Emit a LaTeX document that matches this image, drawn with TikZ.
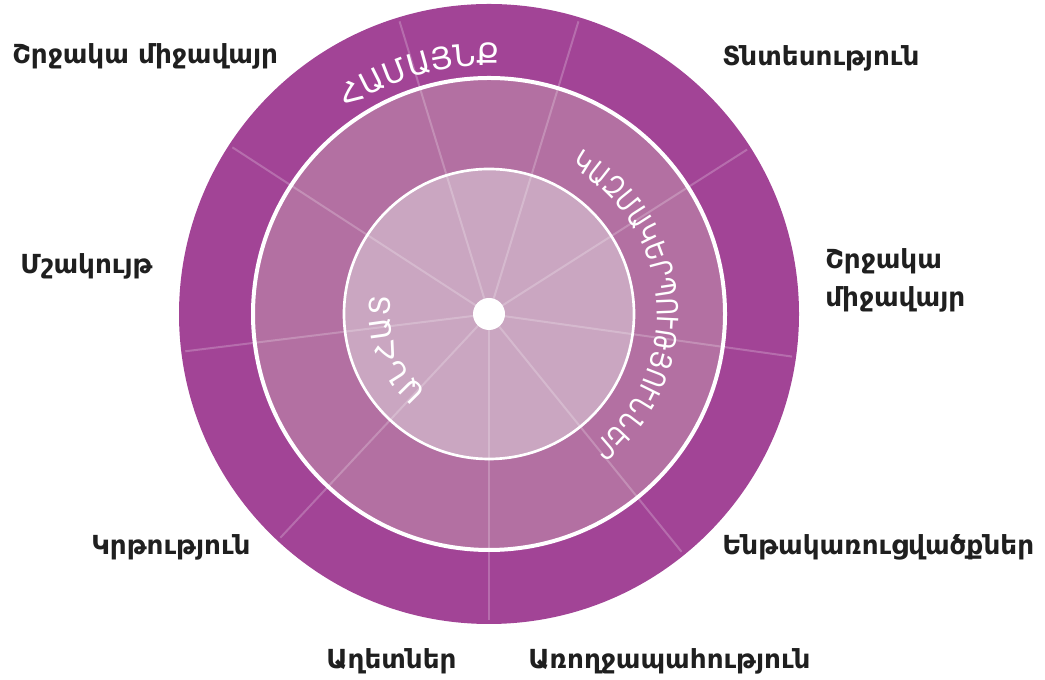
\documentclass[tikz,border=0pt]{standalone}
\usepackage{fontspec}
\setmainfont{DejaVu Sans}
\newfontfamily\arcwide{DejaVu Sans}
\newfontfamily\arcnarrow[FakeStretch=0.82]{DejaVu Sans}
\usepackage{tikz}
\usetikzlibrary{decorations.text}

\definecolor{ringouter}{HTML}{A24496}
\definecolor{ringmid}{HTML}{B370A2}
\definecolor{ringinner}{HTML}{CAA6C1}

\tikzset{
  factor/.style={font=\bfseries\fontsize{19.7}{28.5}\selectfont, text=black!88,
    anchor=west, inner sep=0pt, align=left},
  arctitle/.style 2 args={decorate, decoration={text along path, text align=fit to path,
    text={|\color{white}#1|#2}}},
  spoke/.style={white, opacity=0.22, line width=1.5pt},
}

\begin{document}
\begin{tikzpicture}[x=0.75pt, y=0.75pt]
  \useasboundingbox (0,0) rectangle (1045,680);
  \coordinate (c) at (489,366);

  % Three rings, outermost first
  \fill[ringouter] (c) circle[radius=310];
  \fill[ringmid] (c) circle[radius=236];
  \fill[ringinner] (c) circle[radius=145];

  % Faint spokes between the factors
  \foreach \a [count=\i] in {107,73,32.5,-8,-51,-90,-133,-173,147}
    \draw[spoke] (c) -- ++(\a:306) coordinate (sp-\i);

  % Ring borders and hub
  \draw[white, line width=3pt] (c) circle[radius=236];
  \draw[white, line width=2pt] (c) circle[radius=145];
  \fill[white] (c) circle[radius=16];

  % Curved ring titles, read clockwise
  \path[arctitle={\arcwide\fontsize{23}{26}\selectfont}{ՀԱՄԱՅՆՔ}]
    (c) ++(124.5:249) arc[start angle=124.5, end angle=88.5, radius=249];
  \path[arctitle={\arcnarrow\fontsize{22}{25}\selectfont}{ԿԱԶՄԱԿԵՐՊՈՒԹՅՈՒՆՆԵՐ}]
    (c) ++(61:168) arc[start angle=61, end angle=-51.5, radius=168];
  \path[arctitle={\arcwide\fontsize{21.5}{24}\selectfont}{ԱՆՀԱՏ}]
    (c) ++(231:99) arc[start angle=231, end angle=171, radius=99];

  % Outer factors
  \node[factor] (env-nw) at (12,624) {Շրջակա միջավայր};
  \node[factor] (econ) at (722,622) {Տնտեսություն};
  \node[factor] (env-e) at (825,400) {Շրջակա\\միջավայր};
  \node[factor] (culture) at (20,414) {Մշակույթ};
  \node[factor] (educ) at (91,133) {Կրթություն};
  \node[factor] (infra) at (722,133) {Ենթակառուցվածքներ};
  \node[factor] (disaster) at (326,19) {Աղետներ};
  \node[factor] (health) at (528,19) {Առողջապահություն};

\end{tikzpicture}
\end{document}
